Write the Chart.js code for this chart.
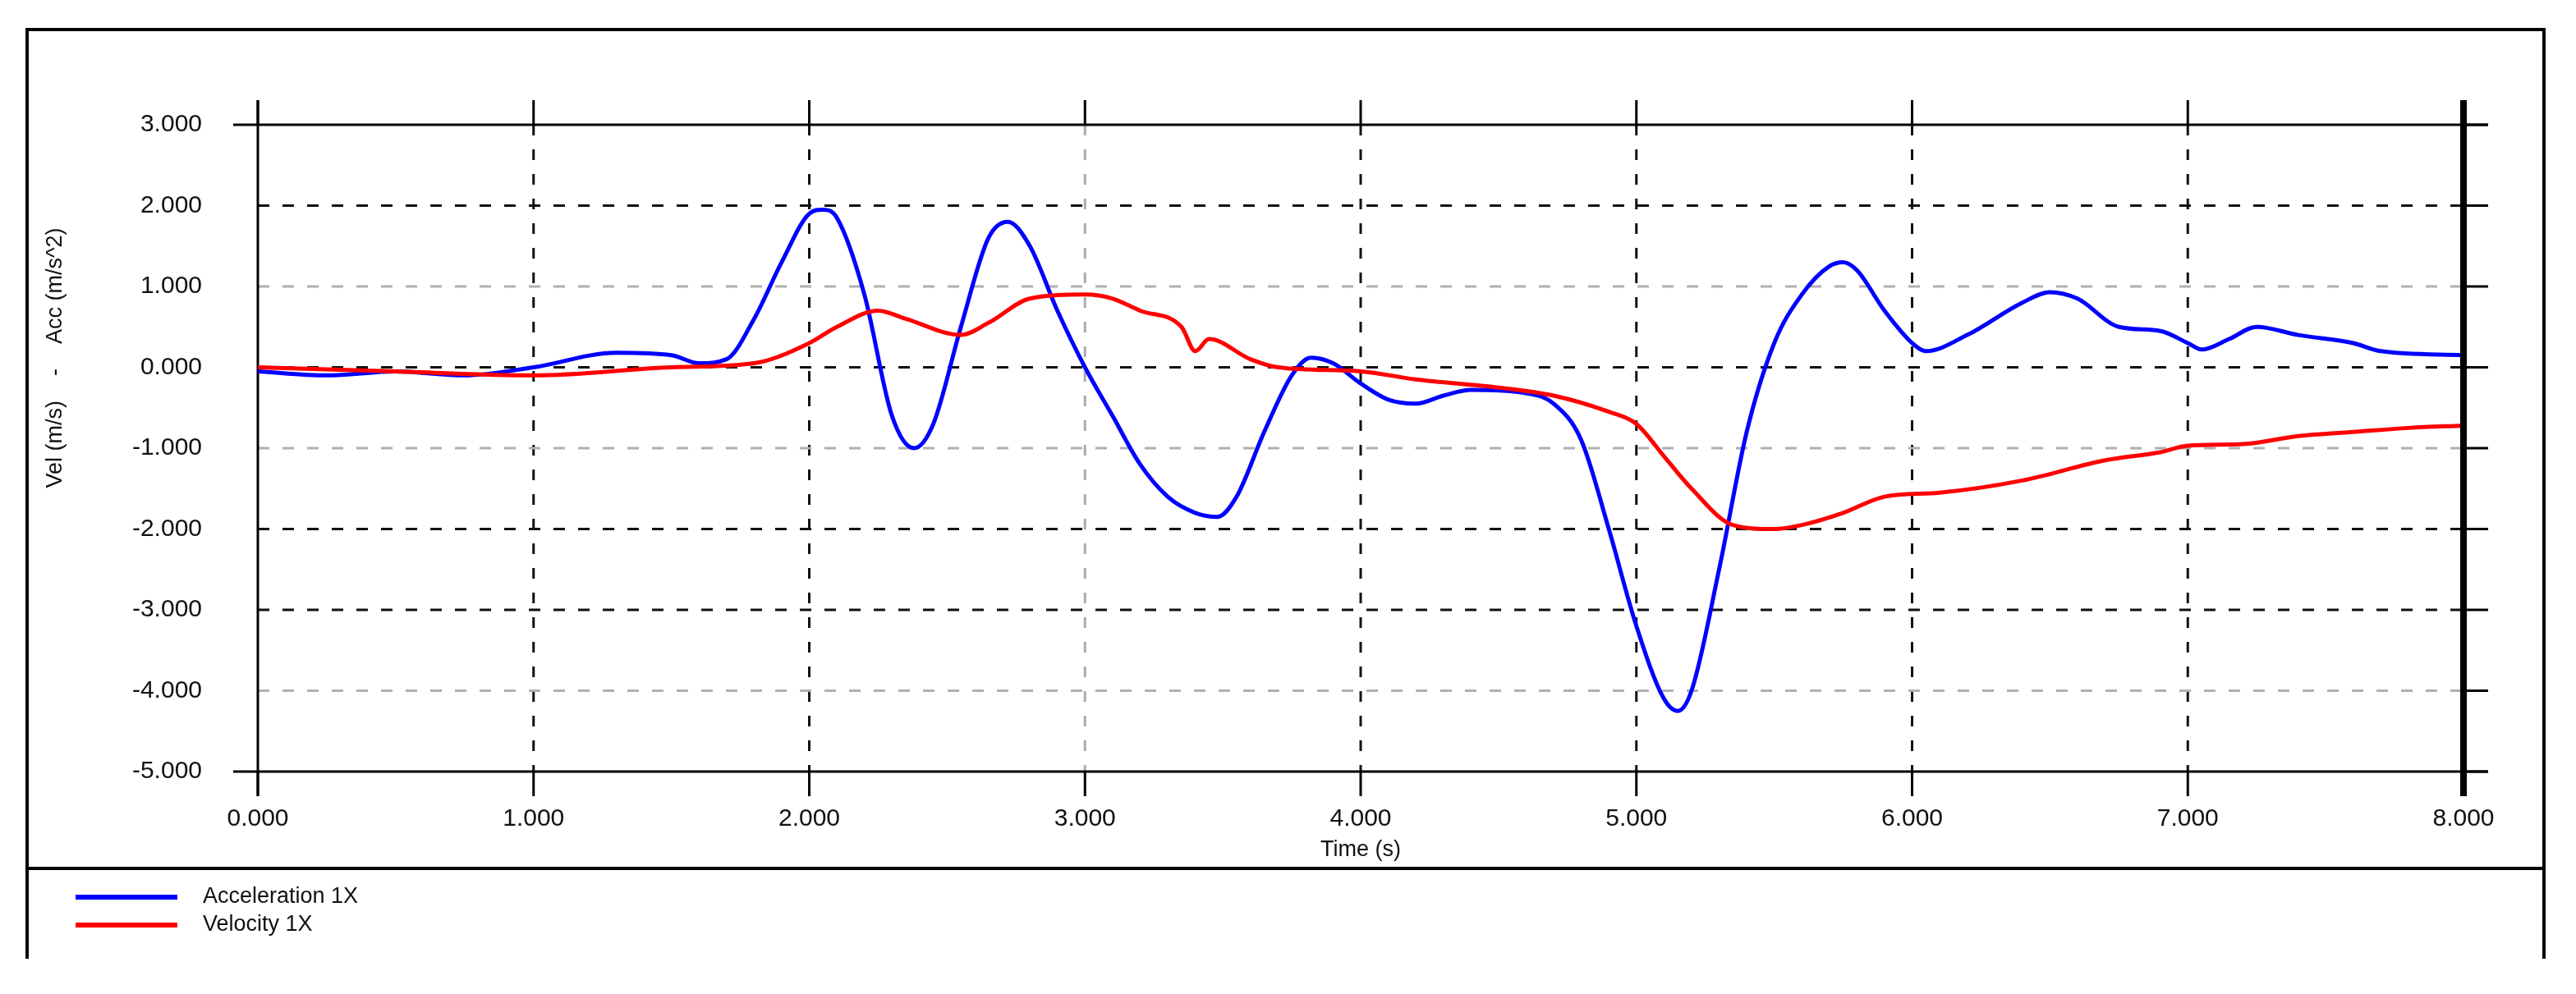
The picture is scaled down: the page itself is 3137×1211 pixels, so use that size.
<!DOCTYPE html>
<html><head><meta charset="utf-8">
<script src="https://cdn.jsdelivr.net/npm/chart.js@4"></script>
<style>html,body{margin:0;padding:0;background:#fff}#w{width:3137px;height:1211px}</style>
</head><body><div id="w"><canvas id="c"></canvas></div>
<script>
const accT = [0,0.25,0.5,0.75,1.0,1.3,1.5,1.6,1.7,1.8,1.9,2.0,2.05,2.1,2.2,2.3,2.38,2.45,2.55,2.65,2.72,2.8,2.9,3.0,3.1,3.2,3.3,3.4,3.48,3.55,3.65,3.75,3.82,3.9,4.0,4.1,4.2,4.3,4.4,4.6,4.7,4.8,4.9,5.0,5.1,5.15,5.2,5.3,5.4,5.5,5.6,5.7,5.75,5.8,5.9,6.0,6.05,6.2,6.4,6.5,6.6,6.75,6.9,7.0,7.05,7.15,7.25,7.4,7.6,7.7,8.0];
const accV = [-0.05,-0.1,-0.05,-0.1,0.0,0.18,0.15,0.05,0.1,0.6,1.3,1.9,1.95,1.85,0.9,-0.6,-1.0,-0.7,0.5,1.6,1.8,1.5,0.7,0,-0.6,-1.2,-1.6,-1.8,-1.85,-1.6,-0.8,-0.1,0.12,0.05,-0.2,-0.4,-0.45,-0.35,-0.28,-0.32,-0.45,-0.9,-2.0,-3.2,-4.1,-4.25,-4.0,-2.5,-0.8,0.3,0.9,1.25,1.3,1.2,0.7,0.3,0.2,0.4,0.8,0.93,0.85,0.5,0.45,0.3,0.22,0.35,0.5,0.4,0.3,0.2,0.15];
const velT = [0,0.5,1.0,1.5,1.8,2.0,2.1,2.25,2.35,2.55,2.65,2.8,3.0,3.1,3.2,3.35,3.4,3.45,3.6,3.7,4.0,4.2,4.5,4.7,4.9,5.0,5.1,5.2,5.35,5.5,5.6,5.75,5.9,6.1,6.4,6.7,6.9,7.0,7.2,7.4,7.6,7.8,8.0];
const velV = [0,-0.05,-0.1,0,0.05,0.3,0.5,0.7,0.6,0.4,0.55,0.85,0.9,0.85,0.7,0.5,0.2,0.35,0.1,0,-0.05,-0.15,-0.25,-0.35,-0.55,-0.7,-1.1,-1.5,-1.95,-2.0,-1.95,-1.8,-1.6,-1.55,-1.4,-1.15,-1.05,-0.97,-0.95,-0.85,-0.8,-0.75,-0.72];
const xTicks = [0,1,2,3,4,5,6,7,8];
const yTicks = [3,2,1,0,-1,-2,-3,-4,-5];
const greyX = [3];
const greyY = [1,-1,-4];
const seriesNames = ['Acceleration 1X','Velocity 1X'];
const xTitle = 'Time (s)';
const yTitle = 'Vel (m/s)    -    Acc (m/s^2)';
const FONT = "'Liberation Sans Narrow','Liberation Sans',Arial,sans-serif";

const pts = (t,v)=>t.map((x,i)=>({x:x,y:v[i]}));

const deco = {
  id:'deco',
  beforeDatasetsDraw(ch){
    const c=ch.ctx, xs=ch.scales.x, ys=ch.scales.y, a=ch.chartArea;
    c.save();
    c.lineWidth=3;
    // vertical grid
    xTicks.forEach(t=>{
      const px=xs.getPixelForValue(t);
      if(t===0||t===8) return;
      c.setLineDash([13,17]);
      c.strokeStyle=greyX.includes(t)?'#aaaaaa':'#111';
      c.beginPath();c.moveTo(px,a.top);c.lineTo(px,a.bottom);c.stroke();
    });
    yTicks.forEach(v=>{
      const py=ys.getPixelForValue(v);
      if(v===3||v===-5) return;
      c.setLineDash([14,16]);
      c.strokeStyle=greyY.includes(v)?'#b0b0b0':'#111';
      c.beginPath();c.moveTo(a.left,py);c.lineTo(a.right,py);c.stroke();
    });
    c.setLineDash([]);
    c.strokeStyle='#000';
    // top & bottom solid lines with right stubs
    [3,-5].forEach(v=>{const py=ys.getPixelForValue(v);c.beginPath();c.moveTo(a.left-30,py);c.lineTo(a.right+30,py);c.stroke();});
    // right stubs
    yTicks.forEach(v=>{const py=ys.getPixelForValue(v);c.beginPath();c.moveTo(a.right,py);c.lineTo(a.right+30,py);c.stroke();});
    // top stubs / bottom stubs
    xTicks.forEach(t=>{const px=xs.getPixelForValue(t);c.beginPath();c.moveTo(px,a.top-30);c.lineTo(px,a.top);c.stroke();
      c.beginPath();c.moveTo(px,a.bottom);c.lineTo(px,a.bottom+30);c.stroke();});
    // left axis
    c.beginPath();c.moveTo(a.left,a.top-30);c.lineTo(a.left,a.bottom+30);c.stroke();
    c.restore();
  },
  afterDraw(ch){
    const c=ch.ctx, a=ch.chartArea;
    c.save();
    c.strokeStyle='#000';
    c.lineWidth=8;
    c.beginPath();c.moveTo(a.right,a.top-30);c.lineTo(a.right,a.bottom+30);c.stroke();
    // frame
    c.lineWidth=4;
    c.beginPath();c.moveTo(33,1168);c.lineTo(33,36);c.lineTo(3098,36);c.lineTo(3098,1168);c.stroke();
    c.lineWidth=4;
    c.beginPath();c.moveTo(33,1058);c.lineTo(3098,1058);c.stroke();
    // titles
    c.fillStyle='#111';
    c.font='27px '+FONT;
    c.textAlign='center';c.textBaseline='middle';
    c.fillText(xTitle,(a.left+a.right)/2,1036);
    c.save();c.translate(68,436);c.rotate(-Math.PI/2);c.fillText(yTitle,0,0);c.restore();
    // legend
    const cols=['#0000ff','#ff0000'];
    seriesNames.forEach((n,i)=>{
      const y=1093+i*34;
      c.strokeStyle=cols[i];c.lineWidth=6;
      c.beginPath();c.moveTo(92,y);c.lineTo(216,y);c.stroke();
      c.textAlign='left';c.fillStyle='#111';c.font='27px '+FONT;
      c.fillText(n,247,y);
    });
    c.restore();
  }
};

new Chart(document.getElementById('c'),{
  type:'line',
  data:{datasets:[
    {label:seriesNames[1],data:pts(velT,velV),borderColor:'#ff0000',borderWidth:5,pointRadius:0,cubicInterpolationMode:'monotone'},
    {label:seriesNames[0],data:pts(accT,accV),borderColor:'#0000ff',borderWidth:5,pointRadius:0,cubicInterpolationMode:'monotone'}
  ]},
  options:{
    responsive:true,maintainAspectRatio:false,animation:false,devicePixelRatio:1,
    layout:{padding:{left:0,right:137,top:152,bottom:0}},
    plugins:{legend:{display:false},tooltip:{enabled:false}},
    scales:{
      x:{type:'linear',min:0,max:8,
        afterBuildTicks:s=>{s.ticks=xTicks.map(v=>({value:v}));},
        afterFit:s=>{s.height=271;},
        grid:{display:false},border:{display:false},
        ticks:{padding:32,color:'#111',font:{family:FONT,size:30},callback:v=>v.toFixed(3),maxRotation:0,autoSkip:false}},
      y:{type:'linear',min:-5,max:3,
        afterBuildTicks:s=>{s.ticks=yTicks.map(v=>({value:v}));},
        afterFit:s=>{s.width=314;},
        grid:{display:false},border:{display:false},
        ticks:{padding:60,color:'#111',font:{family:FONT,size:30},callback:v=>v.toFixed(3),autoSkip:false}}
    }
  },
  plugins:[deco]
});
</script></body></html>
